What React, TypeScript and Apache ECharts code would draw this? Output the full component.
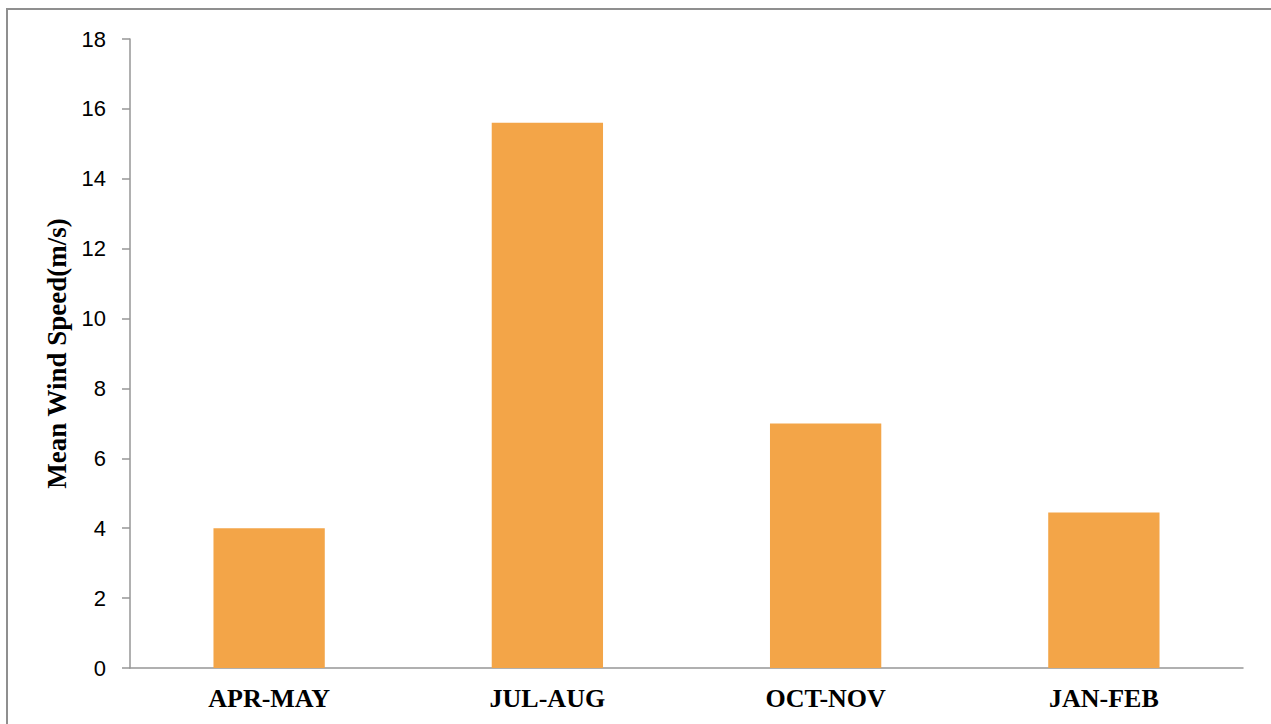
import React, { useEffect, useRef } from "react";
import * as echarts from "echarts";

const categories = ["APR-MAY", "JUL-AUG", "OCT-NOV", "JAN-FEB"];
const meanWindSpeed = [4.0, 15.6, 7.0, 4.45];
const yTitle = "Mean Wind Speed(m/s)";

export default function App() {
  const ref = useRef<HTMLDivElement>(null);

  useEffect(() => {
    if (!ref.current) return;
    const chart = echarts.init(ref.current, null, { renderer: "svg" });
    chart.setOption({
      animation: false,
      backgroundColor: "#ffffff",
      graphic: [
        {
          type: "rect",
          shape: { x: 7, y: 9, width: 1300, height: 760 },
          style: { fill: "none", stroke: "#8f8f8f", lineWidth: 2 },
          silent: true,
        },
      ],
      grid: { left: 130, right: 28, top: 39, bottom: 56, containLabel: false },
      xAxis: {
        type: "category",
        data: categories,
        axisLine: { show: true, lineStyle: { color: "#969696", width: 1.5 } },
        axisTick: { show: false },
        axisLabel: {
          fontFamily: "Liberation Serif",
          fontWeight: "bold",
          fontSize: 26,
          color: "#000",
          margin: 17,
        },
      },
      yAxis: {
        type: "value",
        min: 0,
        max: 18,
        interval: 2,
        name: yTitle,
        nameLocation: "middle",
        nameGap: 58,
        nameTextStyle: {
          fontFamily: "Liberation Serif",
          fontWeight: "bold",
          fontSize: 27,
          color: "#000",
        },
        axisLine: { show: true, lineStyle: { color: "#969696", width: 1.5 } },
        axisTick: { show: true, length: 8, lineStyle: { color: "#969696", width: 1.5 } },
        splitLine: { show: false },
        axisLabel: {
          fontFamily: "Liberation Sans",
          fontSize: 22,
          color: "#000",
          margin: 24,
        },
      },
      series: [
        {
          type: "bar",
          data: meanWindSpeed,
          barCategoryGap: "60%",
          itemStyle: { color: "#F3A548" },
        },
      ],
    });
    return () => chart.dispose();
  }, []);

  return (
    <div
      ref={ref}
      style={{ position: "fixed", left: 0, top: 0, width: 1271, height: 724 }}
    />
  );
}
